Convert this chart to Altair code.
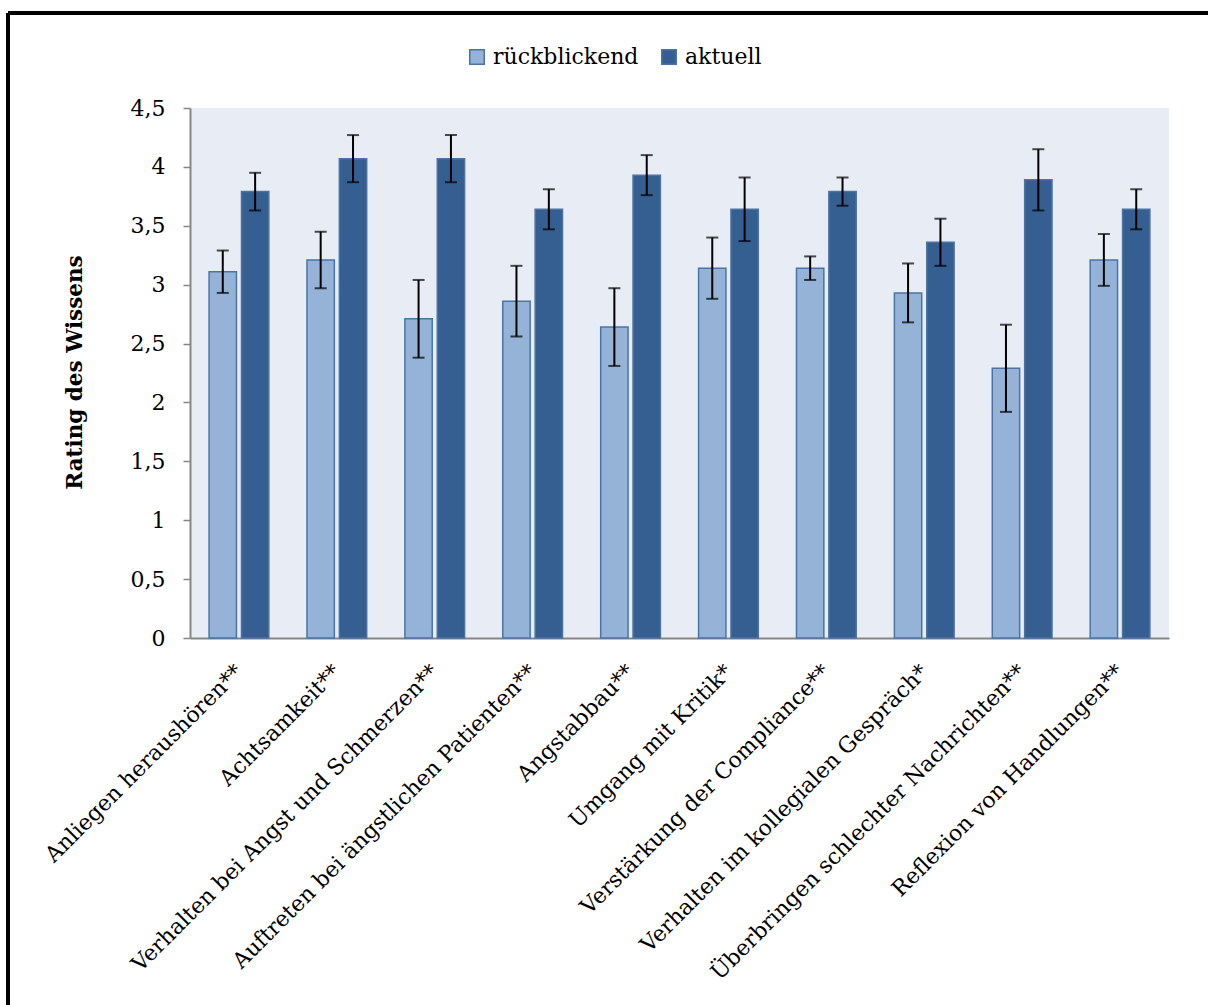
import altair as alt
import pandas as pd

# Kompetenzbereiche (Reihenfolge wie auf der x-Achse)
categories = [
    "Anliegen heraushören**",
    "Achtsamkeit**",
    "Verhalten bei Angst und Schmerzen**",
    "Auftreten bei ängstlichen Patienten**",
    "Angstabbau**",
    "Umgang mit Kritik*",
    "Verstärkung der Compliance**",
    "Verhalten im kollegialen Gespräch*",
    "Überbringen schlechter Nachrichten**",
    "Reflexion von Handlungen**",
]
series = ["rückblickend", "aktuell"]

# Mittelwerte und Fehlerbalken (±)
mean_rueck = [3.11, 3.21, 2.71, 2.86, 2.64, 3.14, 3.14, 2.93, 2.29, 3.21]
err_rueck = [0.18, 0.24, 0.33, 0.30, 0.33, 0.26, 0.10, 0.25, 0.37, 0.22]
mean_akt = [3.79, 4.07, 4.07, 3.64, 3.93, 3.64, 3.79, 3.36, 3.89, 3.64]
err_akt = [0.16, 0.20, 0.20, 0.17, 0.17, 0.27, 0.12, 0.20, 0.26, 0.17]

y_ticks = [0, 0.5, 1, 1.5, 2, 2.5, 3, 3.5, 4, 4.5]

rows = []
for s, means, errs in [(series[0], mean_rueck, err_rueck), (series[1], mean_akt, err_akt)]:
    for c, m, e in zip(categories, means, errs):
        rows.append({"Bereich": c, "Zeitpunkt": s, "Wert": m, "lo": m - e, "hi": m + e})
df = pd.DataFrame(rows)

FONT = "DejaVu Serif"
W, H = 979, 530
PAD_L, PAD_T, PAD_R, PAD_B = 190, 108, 39, 367

x_enc = alt.X(
    "Bereich:N",
    sort=categories,
    scale=alt.Scale(paddingInner=0.39, paddingOuter=0.195),
    axis=alt.Axis(
        title=None,
        labelAngle=-45,
        labelAlign="right",
        labelBaseline="top",
        labelFont=FONT,
        labelFontSize=22,
        labelColor="#000000",
        labelPadding=23,
        labelOffset=-7,
        ticks=False,
        domainColor="#868686",
        domainWidth=2,
        labelLimit=700,
    ),
)
xoff = alt.XOffset("Zeitpunkt:N", sort=series, scale=alt.Scale(paddingInner=0.155))

y_scale = alt.Scale(domain=[0, 4.5], nice=False, zero=True)

legend_cfg = dict(
    title=None,
    orient="none",
    direction="horizontal",
    legendX=276,
    legendY=-62,
    symbolType="square",
    symbolSize=210,
    symbolStrokeWidth=1.5,
    labelFont=FONT,
    labelFontSize=22,
    labelColor="#000000",
    labelOffset=5,
    columnPadding=19,
)

bars = alt.Chart(df).mark_bar(strokeWidth=1.5).encode(
    x=x_enc,
    xOffset=xoff,
    y=alt.Y(
        "Wert:Q",
        scale=y_scale,
        axis=alt.Axis(
            title="Rating des Wissens",
            values=y_ticks,
            labelExpr="replace(format(datum.value, '~g'), '.', ',')",
            labelFont=FONT,
            labelFontSize=22,
            labelColor="#000000",
            labelPadding=18,
            tickSize=7,
            tickColor="#868686",
            tickWidth=1.5,
            domainColor="#868686",
            domainWidth=2,
            grid=False,
            titleFont=FONT,
            titleFontSize=21.5,
            titleFontWeight="bold",
            titleColor="#000000",
            titleAngle=-90,
            titleX=-115,
            titleY=264,
            titleAlign="center",
            titleBaseline="middle",
        ),
    ),
    fill=alt.Fill(
        "Zeitpunkt:N",
        sort=series,
        scale=alt.Scale(domain=series, range=["#95B3D7", "#365F91"]),
        legend=alt.Legend(**legend_cfg),
    ),
    stroke=alt.Stroke(
        "Zeitpunkt:N",
        sort=series,
        scale=alt.Scale(domain=series, range=["#4A74A8", "#4C73A3"]),
        legend=alt.Legend(**legend_cfg),
    ),
)

whisker = alt.Chart(df).mark_rule(color="#000000", strokeWidth=2).encode(
    x=alt.X("Bereich:N", sort=categories),
    xOffset=alt.XOffset("Zeitpunkt:N", sort=series),
    y=alt.Y("lo:Q", scale=y_scale),
    y2="hi:Q",
)
cap_lo = alt.Chart(df).mark_tick(color="#000000", size=12, thickness=2).encode(
    x=alt.X("Bereich:N", sort=categories),
    xOffset=alt.XOffset("Zeitpunkt:N", sort=series),
    y=alt.Y("lo:Q", scale=y_scale),
)
cap_hi = alt.Chart(df).mark_tick(color="#000000", size=12, thickness=2).encode(
    x=alt.X("Bereich:N", sort=categories),
    xOffset=alt.XOffset("Zeitpunkt:N", sort=series),
    y=alt.Y("hi:Q", scale=y_scale),
)

# Rahmen des Diagrammbereichs (links und oben)
frame_left = alt.Chart(df).mark_rule(color="#000000", strokeWidth=2.5).encode(
    x=alt.value(-182), y=alt.value(-95), y2=alt.value(H + PAD_B)
)
frame_top = alt.Chart(df).mark_rule(color="#000000", strokeWidth=2.5).encode(
    x=alt.value(-182), x2=alt.value(W + PAD_R), y=alt.value(-95)
)

chart = (
    alt.layer(bars, whisker, cap_lo, cap_hi, frame_left, frame_top)
    .properties(
        width=W,
        height=H,
        autosize=alt.AutoSizeParams(type="none"),
        padding={"left": PAD_L, "top": PAD_T, "right": PAD_R, "bottom": PAD_B},
        background="#FFFFFF",
    )
    .configure_view(fill="#E8EDF5", stroke=None)
)

chart.save("out.html", embed_options={"renderer": "svg", "actions": False})
